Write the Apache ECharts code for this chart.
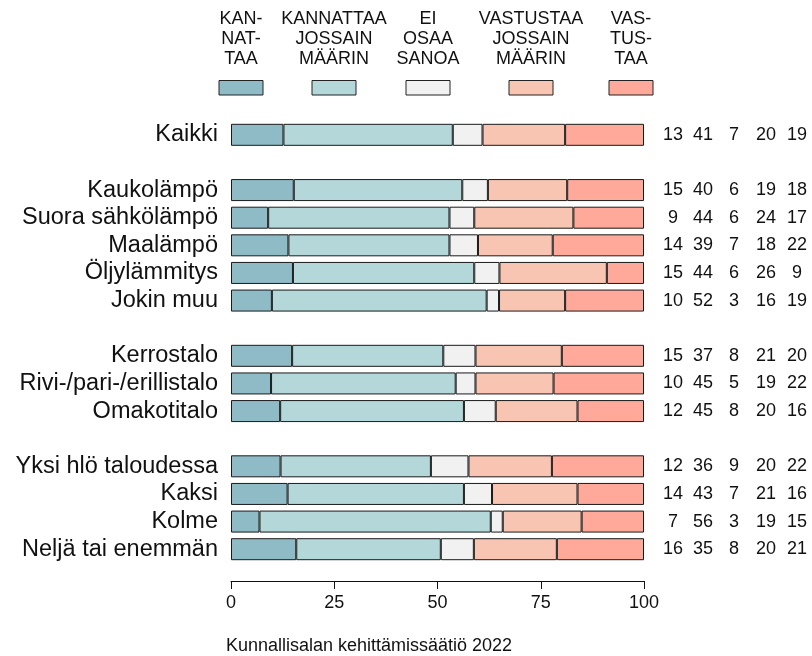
<!DOCTYPE html>
<html>
<head>
<meta charset="utf-8">
<script src="https://cdn.jsdelivr.net/npm/echarts@6/dist/echarts.min.js"></script>
<style>
html,body{margin:0;padding:0;background:#fff;}
#chart{width:812px;height:656px;}
</style>
</head>
<body>
<div id="chart"></div>
<script>
// Rows ('' marks an empty gap row)
const categories = ['Kaikki', '', 'Kaukolämpö', 'Suora sähkölämpö', 'Maalämpö', 'Öljylämmitys', 'Jokin muu', '',
  'Kerrostalo', 'Rivi-/pari-/erillistalo', 'Omakotitalo', '', 'Yksi hlö taloudessa', 'Kaksi', 'Kolme', 'Neljä tai enemmän'];

const seriesNames = ['Kannattaa', 'Kannattaa jossain määrin', 'Ei osaa sanoa', 'Vastustaa jossain määrin', 'Vastustaa'];
const legendLabels = ['KAN-\nNAT-\nTAA', 'KANNATTAA\nJOSSAIN\nMÄÄRIN', 'EI\nOSAA\nSANOA', 'VASTUSTAA\nJOSSAIN\nMÄÄRIN', 'VAS-\nTUS-\nTAA'];

// Bar segment lengths (%) (null = gap row)
const kannattaa        = [12.7, null, 15.2, 9.0, 13.9, 15.0, 9.9, null, 14.8, 9.7, 11.9, null, 12.0, 13.7, 6.9, 15.8];
const kannattaaJossain = [41.0, null, 40.8, 43.9, 39.0, 43.9, 52.0, null, 36.6, 44.7, 44.5, null, 36.4, 42.7, 56.0, 35.0];
const eiOsaa           = [7.2, null, 6.2, 6.0, 6.9, 6.1, 3.0, null, 7.8, 4.8, 7.7, null, 9.1, 6.8, 2.9, 8.0];
const vastustaaJossain = [20.0, null, 19.2, 24.0, 18.1, 26.0, 16.0, null, 20.9, 18.9, 19.8, null, 20.2, 20.7, 19.1, 20.1];
const vastustaa        = [19.1, null, 18.6, 17.1, 22.1, 9.0, 19.1, null, 19.9, 21.9, 16.1, null, 22.3, 16.1, 15.1, 21.1];

// Printed (rounded) values shown at the right
const printed = [
  [13, 41, 7, 20, 19], null,
  [15, 40, 6, 19, 18], [9, 44, 6, 24, 17], [14, 39, 7, 18, 22], [15, 44, 6, 26, 9], [10, 52, 3, 16, 19], null,
  [15, 37, 8, 21, 20], [10, 45, 5, 19, 22], [12, 45, 8, 20, 16], null,
  [12, 36, 9, 20, 22], [14, 43, 7, 21, 16], [7, 56, 3, 19, 15], [16, 35, 8, 20, 21]
];

const xTicks = [0, 25, 50, 75, 100];
const footer = 'Kunnallisalan kehittämissäätiö 2022';

const colors = ['#8FBBC7', '#B4D7DA', '#F1F1F1', '#F9C5B3', '#FFA99A'];
const FONT = '"Liberation Sans", Arial, sans-serif';

const seriesValues = [kannattaa, kannattaaJossain, eiOsaa, vastustaaJossain, vastustaa];
const axisKeys = categories.map((c, i) => c === '' ? ('__gap' + i) : c);

const chart = echarts.init(document.getElementById('chart'));

const legendCenters = [241, 334, 428, 531, 631];
const graphics = [];
legendLabels.forEach((t, i) => {
  graphics.push({
    type: 'text', x: legendCenters[i], y: 9,
    style: { text: t, font: '18px ' + FONT, fill: '#111', textAlign: 'center', lineHeight: 20 }
  });
  graphics.push({
    type: 'rect', shape: { x: legendCenters[i] - 22, y: 80.5, width: 44, height: 14.5 },
    style: { fill: colors[i], stroke: '#222', lineWidth: 1 }
  });
});
graphics.push({
  type: 'text', x: 369, y: 637,
  style: { text: footer, font: '18px ' + FONT, fill: '#111', textAlign: 'center' }
});

const cellW = [30, 30, 32, 32, 30];
const rich = {};
cellW.forEach((w, i) => { rich['c' + i] = { width: w, align: 'center', fontSize: 18, fontFamily: FONT, color: '#111' }; });

chart.setOption({
  animation: false,
  backgroundColor: '#fff',
  textStyle: { fontFamily: FONT },
  grid: { left: 231, right: 168, top: 121, bottom: 93, containLabel: false },
  xAxis: {
    type: 'value', min: 0, max: 100, interval: 25,
    offset: 18,
    axisLine: { show: true, lineStyle: { color: '#111', width: 1 } },
    axisTick: { show: true, length: 8, lineStyle: { color: '#111' } },
    axisLabel: { fontSize: 18, color: '#111', margin: 13, fontFamily: FONT,
      formatter: v => xTicks.includes(v) ? String(v) : '' },
    splitLine: { show: false }
  },
  yAxis: [{
    type: 'category', data: axisKeys, inverse: true,
    axisLine: { show: false }, axisTick: { show: false },
    axisLabel: { interval: 0, fontSize: 23.5, color: '#111', margin: 13, fontFamily: FONT,
      formatter: v => v.startsWith('__gap') ? '' : v }
  }, {
    type: 'category', data: axisKeys, inverse: true, position: 'right',
    axisLine: { show: false }, axisTick: { show: false },
    axisLabel: { interval: 0, margin: 14, rich: rich,
      formatter: (v, idx) => {
        const p = printed[idx];
        if (!p) return '';
        return p.map((n, i) => '{c' + i + '|' + n + '}').join('');
      } }
  }],
  series: seriesValues.map((vals, i) => ({
    name: seriesNames[i], type: 'bar', stack: 'total', yAxisIndex: 0,
    barWidth: 22,
    data: vals,
    itemStyle: { color: colors[i], borderColor: '#1a1a1a', borderWidth: 1 },
    emphasis: { disabled: true }
  })),
  graphic: graphics
});
</script>
</body>
</html>
